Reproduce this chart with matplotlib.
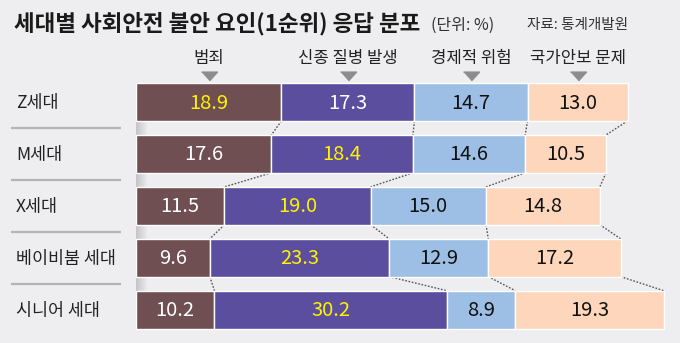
import numpy as np
import matplotlib
matplotlib.use("Agg")
import matplotlib.pyplot as plt
from matplotlib.colors import LinearSegmentedColormap

plt.rcParams['font.family'] = ['Noto Sans CJK KR', 'DejaVu Sans']

# ---- data ----
generations = ["Z세대", "M세대", "X세대", "베이비붐 세대", "시니어 세대"]
categories = ["범죄", "신종 질병 발생", "경제적 위험", "국가안보 문제"]
crime = [18.9, 17.6, 11.5, 9.6, 10.2]
disease = [17.3, 18.4, 19.0, 23.3, 30.2]
economy = [14.7, 14.6, 15.0, 12.9, 8.9]
security = [13.0, 10.5, 14.8, 17.2, 19.3]

title = "세대별 사회안전 불안 요인(1순위) 응답 분포"
unit = "(단위: %)"
source = "자료: 통계개발원"

colors = ["#6f4f51", "#5b4e9e", "#9dbfe6", "#fdd6bc"]
text_normal = ["white", "white", "#111111", "#111111"]
highlight = "#fff200"
bg = "#eeeef0"

W, H, DPI = 680, 343, 100
fig = plt.figure(figsize=(W / DPI, H / DPI), dpi=DPI, facecolor=bg)

# pixel geometry
x0_px = 136
px_per_unit = 7.692
row0_px = 102
pitch_px = 51.9
bar_h = 0.73

ax = fig.add_axes([x0_px / W, 0, (W - x0_px) / W, 1])
ax.set_facecolor(bg)
ax.set_xlim(0, (W - x0_px) / px_per_unit)
ax.set_ylim((H - row0_px) / pitch_px, -row0_px / pitch_px)
ax.axis("off")

series = np.array([crime, disease, economy, security])  # (4, 5)
n = len(generations)
ypos = np.arange(n)
cum = np.vstack([np.zeros(n), np.cumsum(series, axis=0)])  # (5, 5)

# left shadow strip
grad = np.linspace(0, 1, 64).reshape(1, -1)
cmap = LinearSegmentedColormap.from_list("sh", ["#c4c4c6", bg])
ax.imshow(grad, cmap=cmap, aspect="auto",
          extent=(0, 1.5, n - 1 + bar_h / 2, -bar_h / 2), zorder=0.5)

for k in range(4):
    ax.barh(ypos, series[k], left=cum[k], height=bar_h, color=colors[k],
            edgecolor="white", linewidth=1.0, zorder=2)

# value labels
rowmax = series.argmax(axis=0)
for i in range(n):
    for k in range(4):
        c = highlight if rowmax[i] == k else text_normal[k]
        ax.text(cum[k, i] + series[k, i] / 2, ypos[i] + 0.02, f"{series[k, i]:.1f}",
                ha="center", va="center", fontsize=14.5, color=c, zorder=3)

# dotted connectors
for i in range(n - 1):
    for k in range(1, 5):
        ax.plot([cum[k, i], cum[k, i + 1]],
                [ypos[i] + bar_h / 2, ypos[i + 1] - bar_h / 2],
                linestyle=(0, (1.2, 1.2)), color="#555555", linewidth=1.0, zorder=1)

# category headers above Z row segments
for k, cat in enumerate(categories):
    xc = cum[k, 0] + series[k, 0] / 2
    ax.text(xc, -0.83, cat, ha="center", va="center", fontsize=12,
            color="#222222", clip_on=False)
    ax.plot([xc], [-0.5], marker=[(-1, 0.55), (1, 0.55), (0, -0.55)],
            markersize=11.5, color="#8c8c8c", linestyle="none", clip_on=False)

# row labels and separators
xl0 = (11 - x0_px) / px_per_unit
xl1 = (121 - x0_px) / px_per_unit
xt = (16 - x0_px) / px_per_unit
for i, g in enumerate(generations):
    ax.text(xt, ypos[i] + 0.02, g, ha="left", va="center", fontsize=12.5,
            color="#222222", clip_on=False)
    if i < n - 1:
        ax.plot([xl0, xl1], [ypos[i] + 0.5, ypos[i] + 0.5], color="#b4b4b6",
                linewidth=1.6, clip_on=False, solid_capstyle="butt")

# title & notes
fig.text(14 / W, 1 - 24 / H, title, ha="left", va="center", fontsize=16.2,
         fontweight="bold", color="#1a1a1a")
fig.text(431 / W, 1 - 25 / H, unit, ha="left", va="center", fontsize=11.5,
         color="#333333")
fig.text(628 / W, 1 - 25 / H, source, ha="right", va="center", fontsize=10.5,
         color="#333333")

fig.savefig("out.png", dpi=DPI, facecolor=bg)
